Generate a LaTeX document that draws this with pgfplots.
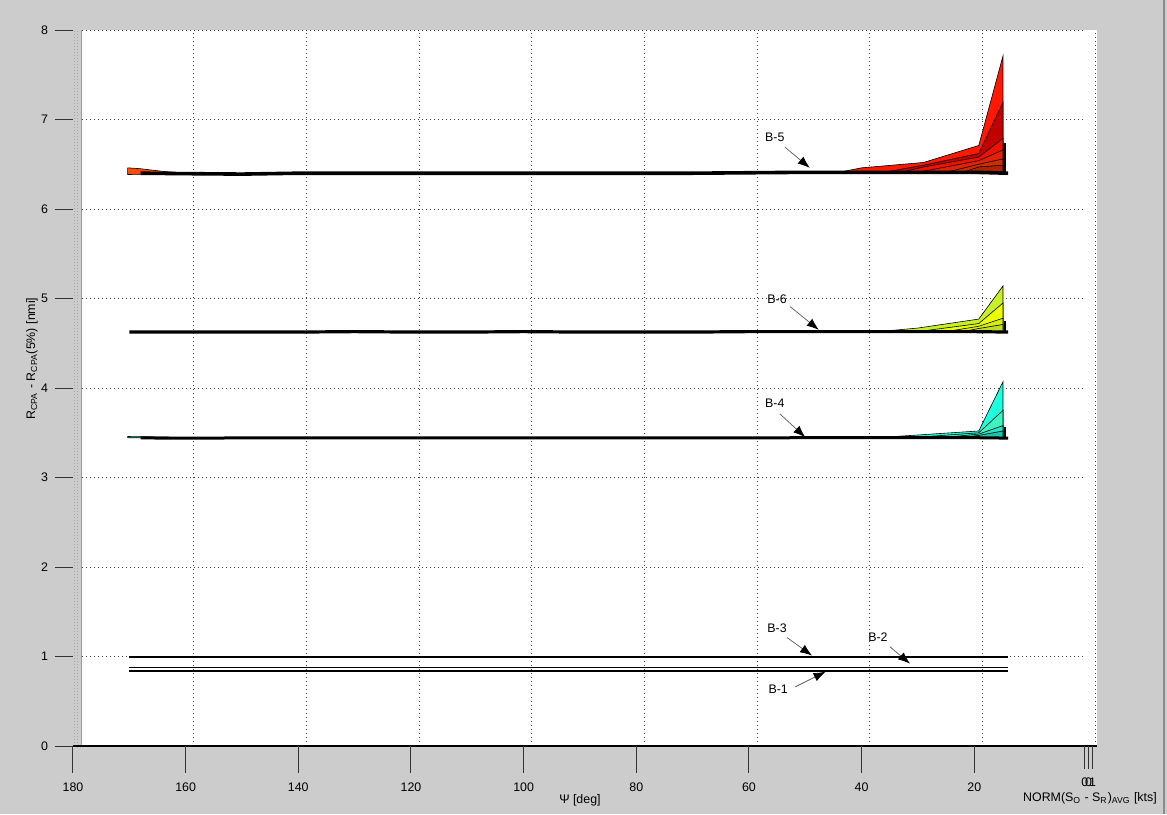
\documentclass[border=0pt]{standalone}
\usepackage{fontspec}
\setmainfont{Liberation Sans}
\usepackage{pgfplots}
\pgfplotsset{compat=1.18}
\usetikzlibrary{arrows.meta}
\definecolor{figgray}{RGB}{204,204,204}
\definecolor{rA}{RGB}{255,25,0}
\definecolor{rB}{RGB}{195,0,0}
\definecolor{rC}{RGB}{238,18,0}
\definecolor{rD}{RGB}{225,35,0}
\definecolor{rE}{RGB}{205,45,0}
\definecolor{rF}{RGB}{175,35,0}
\definecolor{rOr}{RGB}{255,75,10}
\definecolor{yA}{RGB}{200,240,40}
\definecolor{yB}{RGB}{235,255,0}
\definecolor{yC}{RGB}{212,238,20}
\definecolor{yD}{RGB}{190,222,30}
\definecolor{cA}{RGB}{30,255,222}
\definecolor{cB}{RGB}{60,245,190}
\definecolor{cC}{RGB}{40,225,200}
\definecolor{cD}{RGB}{20,200,170}
\tikzset{griddot/.style={black!75, line width=0.4pt, dash pattern=on 0.5pt off 1.5pt},
  annarrow/.style={black!65, line width=0.35pt, -{Latex[black,length=6pt,width=4.5pt]}},
  srf/.style={draw=black, line width=0.3pt}}
\begin{document}
\begin{tikzpicture}[font=\fontsize{6.2}{7}\selectfont]
\fill[figgray] (-36.5pt,-34pt) rectangle (547pt,373pt);
\draw[black!45, line width=0.6pt] (545.5pt,-34pt) -- (545.5pt,373pt);
\begin{axis}[
  scale only axis, width=512pt, height=358pt,
  xmin=-1.79, xmax=180, x dir=reverse, ymin=0, ymax=8,
  axis line style={draw=none},
  clip=false,
  xtick={180,160,...,20}, ytick={0,1,...,8},
  xtick pos=bottom, ytick pos=left,
  major tick length=9pt, tick align=outside,
  tick style={black!80, line width=0.5pt},
  xtick style={draw=none},
  /pgf/number format/assume math mode=true,
  tick label style={font=\fontsize{6.2}{7}\selectfont},
  xticklabel style={yshift=-6pt},
]
% white plot area
\fill[white] (axis cs:178.4,0) rectangle (axis cs:-1.79,8);
% box edge dotted lines on the left
\draw[black!35, line width=0.4pt, dash pattern=on 0.5pt off 1pt] (axis cs:179.8,0) -- (axis cs:179.8,8);
\draw[black!35, line width=0.4pt, dash pattern=on 0.5pt off 1pt] (axis cs:179.2,0) -- (axis cs:179.2,8);
\draw[black!40, line width=0.8pt] (axis cs:178.5,0) -- (axis cs:178.5,8);
% grid
\pgfplotsinvokeforeach{1,2,...,8}{\draw[griddot] (axis cs:178.4,#1) -- (axis cs:0.35,#1);}
\pgfplotsinvokeforeach{160,140,...,0}{\draw[griddot] (axis cs:#1-1.45,0) -- (axis cs:#1-1.45,8);}

% ---------- B-5 (red) ----------
\addplot[srf, fill=rA] coordinates {(44,6.41) (40,6.46) (29,6.52) (19.2,6.71) (14.9,7.71) (14.9,6.40)} -- cycle;
\addplot[srf, fill=rB] coordinates {(36,6.41) (29,6.49) (19.2,6.62) (14.9,7.19) (14.9,6.40)} -- cycle;
\addplot[srf, fill=rC] coordinates {(33,6.41) (29,6.47) (19.2,6.58) (14.9,6.79) (14.9,6.40)} -- cycle;
\addplot[srf, fill=rD] coordinates {(30,6.41) (19.2,6.54) (14.9,6.66) (14.9,6.40)} -- cycle;
\addplot[srf, fill=rE] coordinates {(25,6.41) (19.2,6.50) (14.9,6.56) (14.9,6.40)} -- cycle;
\addplot[srf, fill=rF] coordinates {(22,6.41) (19.2,6.47) (14.9,6.49) (14.9,6.40)} -- cycle;
\addplot[srf, fill=rOr] coordinates {(170.3,6.46) (168,6.45) (164,6.42) (160,6.40) (170.3,6.385)} -- cycle;
\addplot[black, line width=1.8pt] coordinates {(168,6.40) (160,6.395) (150,6.39) (140,6.40) (130,6.40) (120,6.40) (110,6.40) (100,6.40) (90,6.40) (80,6.40) (70,6.40) (60,6.405) (50,6.41) (40,6.41) (30,6.41) (20,6.41) (14,6.40)};
\addplot[black, line width=1.2pt] coordinates {(14.6,6.40) (14.6,6.74)};

% ---------- B-6 (yellow) ----------
\addplot[srf, fill=yA] coordinates {(37,4.63) (30,4.67) (19.2,4.77) (14.9,5.14) (14.9,4.62)} -- cycle;
\addplot[srf, fill=yB] coordinates {(30,4.63) (19.2,4.72) (14.9,4.95) (14.9,4.62)} -- cycle;
\addplot[srf, fill=yC] coordinates {(25,4.63) (19.2,4.69) (14.9,4.78) (14.9,4.62)} -- cycle;
\addplot[srf, fill=yD] coordinates {(22,4.63) (19.2,4.665) (14.9,4.71) (14.9,4.62)} -- cycle;
\addplot[black, line width=1.6pt] coordinates {(170,4.625) (160,4.625) (150,4.625) (140,4.625) (130,4.63) (120,4.625) (110,4.625) (100,4.63) (90,4.625) (80,4.625) (70,4.625) (60,4.63) (50,4.63) (40,4.63) (30,4.63) (20,4.63) (14,4.625)};
\addplot[black, line width=1pt] coordinates {(14.6,4.62) (14.6,4.75)};

% ---------- B-4 (cyan) ----------
\addplot[srf, fill=cA] coordinates {(36,3.45) (19.2,3.52) (14.9,4.07) (14.9,3.44)} -- cycle;
\addplot[srf, fill=cB] coordinates {(30,3.45) (19.2,3.50) (14.9,3.75) (14.9,3.44)} -- cycle;
\addplot[srf, fill=cC] coordinates {(25,3.45) (19.2,3.485) (14.9,3.58) (14.9,3.44)} -- cycle;
\addplot[srf, fill=cD] coordinates {(22,3.45) (19.2,3.47) (14.9,3.52) (14.9,3.44)} -- cycle;
\addplot[srf, fill=cA] coordinates {(170.3,3.458) (163,3.452) (163,3.444) (170.3,3.444)} -- cycle;
\addplot[black, line width=1.5pt] coordinates {(168,3.442) (160,3.44) (150,3.442) (140,3.442) (130,3.442) (120,3.442) (110,3.442) (100,3.442) (90,3.442) (80,3.442) (70,3.442) (60,3.442) (50,3.445) (40,3.445) (30,3.445) (20,3.445) (14,3.44)};
\addplot[black, line width=1pt] coordinates {(14.6,3.44) (14.6,3.56)};

% ---------- B-3, B-2, B-1 ----------
\addplot[black, line width=0.9pt] coordinates {(170,0.995) (120,0.995) (80,0.995) (40,0.995) (14,0.995)};
\addplot[black, line width=0.5pt] coordinates {(170,0.875) (120,0.875) (80,0.875) (40,0.875) (14,0.875)};
\addplot[black, line width=0.8pt] coordinates {(170,0.841) (120,0.841) (80,0.841) (40,0.841) (14,0.841)};

% ---------- annotations ----------
\node at (axis cs:55.4,6.80) {B-5};
\draw[annarrow] (axis cs:53.6,6.69) -- (axis cs:49.2,6.46);
\node at (axis cs:55.0,4.99) {B-6};
\draw[annarrow] (axis cs:52.7,4.91) -- (axis cs:47.6,4.65);
\node at (axis cs:55.4,3.83) {B-4};
\draw[annarrow] (axis cs:54.5,3.71) -- (axis cs:50.0,3.45);
\node at (axis cs:55.0,1.32) {B-3};
\draw[annarrow] (axis cs:53.2,1.21) -- (axis cs:48.8,1.01);
\node at (axis cs:37.1,1.22) {B-2};
\draw[annarrow] (axis cs:35.0,1.11) -- (axis cs:31.4,0.92);
\node at (axis cs:54.8,0.63) {B-1};
\draw[annarrow] (axis cs:51.8,0.66) -- (axis cs:46.4,0.83);

% ---------- axis line, ticks, labels ----------
\draw[black, line width=0.6pt] (axis cs:180,0) -- (axis cs:-1.79,0);
\pgfplotsinvokeforeach{180,160,...,20}{\draw[black!80, line width=0.5pt] (axis cs:#1,0) -- ([yshift=-13.5pt]axis cs:#1,0);}
\pgfplotsinvokeforeach{0.35,-0.36,-1.07}{\draw[black!80, line width=0.5pt] (axis cs:#1,0) -- ([yshift=-11.5pt]axis cs:#1,0);}
\node at ([yshift=-18pt]axis cs:0.35,0) {0};
\node at ([yshift=-18pt]axis cs:-0.3,0) {0};
\node at ([yshift=-18pt]axis cs:-1.0,0) {1};
\node at ([yshift=-27pt]axis cs:90,0) {Ψ [deg]};
\node at ([yshift=-26pt]axis cs:-0.54,0) {NORM(S\textsubscript{O} - S\textsubscript{R})\textsubscript{AVG} [kts]};
\node[rotate=90] at ([xshift=-20.5pt]axis cs:180,4.33) {R\textsubscript{CPA} - R\textsubscript{CPA}(5\%) [nmi]};
\end{axis}
\pgfresetboundingbox
\path[use as bounding box] (-36.5pt,-34pt) rectangle (547pt,373pt);
\end{tikzpicture}
\end{document}
